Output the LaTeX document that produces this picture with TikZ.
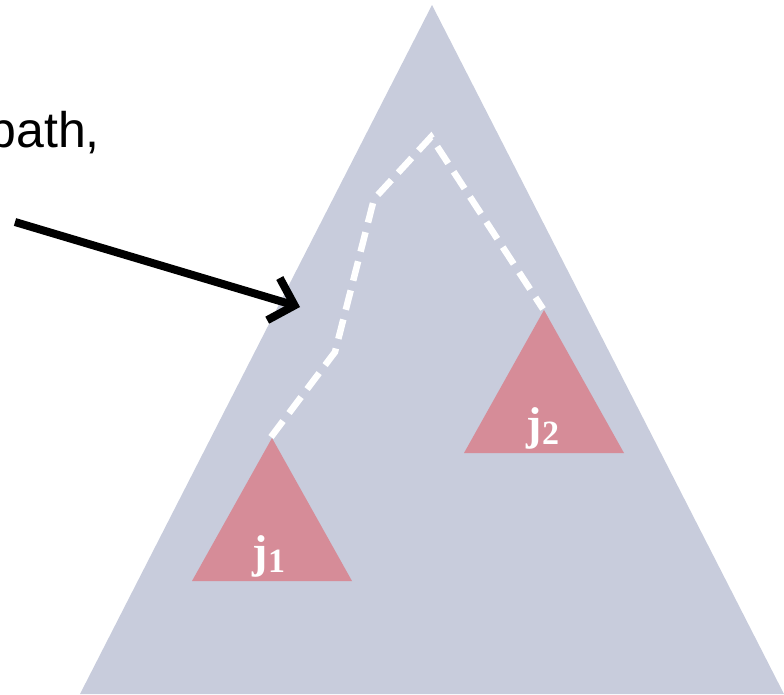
\documentclass[tikz,border=0pt]{standalone}
\usepackage{fontspec}
\setmainfont{Liberation Serif}
\newfontfamily\arialf{Liberation Sans}
\usetikzlibrary{arrows.meta}
\definecolor{bigtri}{RGB}{200,204,220}
\definecolor{smalltri}{RGB}{214,140,152}
\tikzset{
  bigshape/.style={fill=bigtri, draw=none},
  subtree/.style={fill=smalltri, draw=none},
  pathline/.style={white, line width=6.5pt, dash pattern=on 20pt off 10pt},
  pointer/.style={black, line width=8pt, -{Straight Barb[length=22pt, width=44pt, line width=8pt]}},
  lab/.style={text=white, font=\fontsize{46}{46}\selectfont\bfseries, inner sep=0pt}
}
\newcommand{\subnum}[1]{\raisebox{-5pt}{\fontsize{34}{34}\selectfont\bfseries #1}}
\begin{document}
\begin{tikzpicture}[x=1pt, y=-1pt]
\useasboundingbox (0,0) rectangle (784,694);
% big triangle
\fill[bigshape] (432,5) -- (80,694) -- (784,694) -- cycle;
% subtrees
\fill[subtree] (272,438) -- (192,581) -- (352,581) -- cycle;
\fill[subtree] (544,310) -- (464,453) -- (624,453) -- cycle;
% dashed path
\coordinate (p0) at (271,437);
\coordinate (p1) at (335,352);
\coordinate (p2) at (374,199);
\coordinate (p3) at (431,137);
\coordinate (p4) at (543,309);
\draw[pathline] (p0) -- (p1) -- (p2) -- (p3) -- (p4);
% labels
\node[lab] (j1) at (269,556) {j\subnum{1}};
\node[lab] (j2) at (543,428) {j\subnum{2}};
% text
\node[anchor=base east, inner sep=0pt, font=\arialf\fontsize{50}{50}\selectfont] (txt) at (100,147) {path,};
% arrow
\coordinate (a0) at (15,222);
\coordinate (a1) at (300,307);
\draw[pointer] (a0) -- (a1);
\end{tikzpicture}
\end{document}
